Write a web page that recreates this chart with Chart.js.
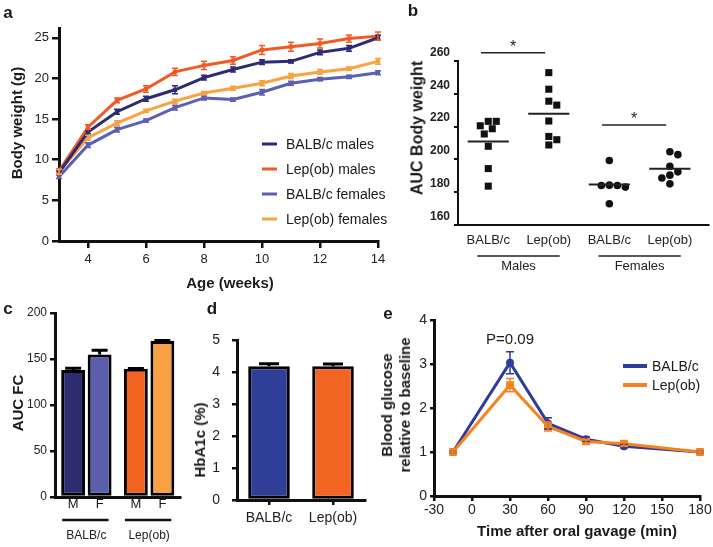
<!DOCTYPE html>
<html><head><meta charset="utf-8">
<script src="https://cdn.jsdelivr.net/npm/chart.js@4.4.1/dist/chart.umd.min.js"></script>
<style>
html,body{margin:0;padding:0;background:#fff;}
#fig{position:relative;width:713px;height:547px;overflow:hidden;background:#fff;font-family:'Liberation Sans',Arial,Helvetica,sans-serif;color:#1a1a1a;}
canvas{position:absolute;}
.t{position:absolute;white-space:nowrap;transform:translate(-50%,-50%);line-height:1.2;}
.r{transform:translate(-50%,-50%) rotate(-90deg);text-align:center;}
.b{font-weight:bold;}
.pl{font-weight:bold;font-size:17px;}
.ll{position:absolute;height:3px;transform:translateY(-50%);}
.lt{position:absolute;white-space:nowrap;transform:translateY(-50%);font-size:14px;line-height:1.2;}
</style></head>
<body><div id="fig">
<canvas id="ca" width="395" height="295" style="left:0;top:0"></canvas>
<canvas id="cb" width="313" height="250" style="left:400px;top:30px"></canvas>
<canvas id="cc" width="190" height="257" style="left:0;top:290px"></canvas>
<canvas id="cd" width="190" height="257" style="left:190px;top:290px"></canvas>
<canvas id="ce" width="333" height="257" style="left:380px;top:290px"></canvas>

<div class="t pl" style="left:8px;top:13px">a</div>
<div class="t pl" style="left:413px;top:11px">b</div>
<div class="t pl" style="left:8px;top:309px">c</div>
<div class="t pl" style="left:212px;top:309px">d</div>
<div class="t pl" style="left:388px;top:314px">e</div>

<div class="t r b" style="left:17px;top:123px;font-size:15px">Body weight (g)</div>
<div class="t b" style="left:230px;top:283px;font-size:15px">Age (weeks)</div>
<div id="legA"></div>

<div class="t r b" style="left:417px;top:128px;font-size:16px">AUC Body weight</div>
<div class="t r b" style="left:18px;top:403px;font-size:15px">AUC FC</div>
<div class="t r b" style="left:200px;top:440px;font-size:15px">HbA1c (%)</div>
<div class="t r b" style="left:396px;top:405px;font-size:15px;line-height:18px">Blood glucose<br>relative to baseline</div>
<div class="t b" style="left:577px;top:531px;font-size:15px">Time after oral gavage (min)</div>
<div id="legE"></div>
</div>
<script>
// ---------- data ----------
// panel a: body weight (g) by age (weeks)
const weeks = [3,4,5,6,7,8,9,10,11,12,13,14];
const aXTicks = [4,6,8,10,12,14];
const aYTicks = [0,5,10,15,20,25];
const balbMales      = [8.4,13.4,15.9,17.5,18.6,20.1,21.1,22.0,22.1,23.2,23.7,25.0];
const balbMalesErr   = [0.2,0.2,0.3,0.3,0.5,0.3,0.3,0.3,0.2,0.3,0.35,0.3];
const lepMales       = [8.6,14.0,17.3,18.7,20.8,21.6,22.2,23.5,23.9,24.3,24.9,25.2];
const lepMalesErr    = [0.3,0.3,0.3,0.4,0.45,0.5,0.45,0.55,0.55,0.55,0.45,0.5];
const balbFemales    = [7.9,11.8,13.7,14.8,16.4,17.6,17.4,18.3,19.4,19.9,20.2,20.7];
const balbFemalesErr = [0.2,0.3,0.3,0.2,0.3,0.25,0.2,0.35,0.25,0.2,0.2,0.25];
const lepFemales     = [8.5,12.7,14.5,16.0,17.2,18.2,18.8,19.4,20.3,20.8,21.2,22.1];
const lepFemalesErr  = [0.3,0.3,0.3,0.2,0.25,0.2,0.25,0.3,0.3,0.3,0.2,0.35];
const aLabels = ['BALB/c males','Lep(ob) males','BALB/c females','Lep(ob) females'];

// panel b: AUC body weight per animal
const bGroups = ['BALB/c','Lep(ob)','BALB/c','Lep(ob)'];
const bSexGroups = ['Males','Females'];
const bYTicks = [160,180,200,220,240,260];
const aucBalbMales   = [223.2,223.2,220.5,218.7,215.5,208.0,194.4,183.7];
const aucLepMales    = [252.9,242.8,235.5,233.1,223.4,214.0,212.0,208.8];
const aucBalbFemales = [199.3,184.3,184.1,184.1,183.1,173.0];
const aucLepFemales  = [204.7,202.9,195.8,192.4,190.4,188.7,185.1];
const bSig = [{from:0,to:1,y:265,text:'*'},{from:2,to:3,y:221,text:'*'}];

// panel c: AUC FC
const cGroups = ['BALB/c','Lep(ob)'];
const cSexes = ['M','F'];
const aucFcMales = [138,139.3];
const aucFcMalesErr = [2,0.5];
const aucFcFemales = [155,169.5];
const aucFcFemalesErr = [4.5,0.5];

// panel d: HbA1c (%)
const dGroups = ['BALB/c','Lep(ob)'];
const hba1c = [4.18,4.18];
const hba1cErr = [0.08,0.07];

// panel e: blood glucose relative to baseline
const eTimes = [-15,30,60,90,120,180];
const eXTicks = [-30,0,30,60,90,120,150,180];
const eBalb = [1.0,3.03,1.65,1.29,1.13,1.0];
const eBalbErr = [0.02,0.25,0.13,0.05,0.04,0.02];
const eLep = [1.0,2.52,1.58,1.24,1.19,1.0];
const eLepErr = [0.02,0.15,0.10,0.04,0.05,0.02];
const eNote = {x:30,y:3.55,text:'P=0.09'};
const eLabels = ['BALB/c','Lep(ob)'];

// ---------- styles ----------
const FONT = "'Liberation Sans', Arial, Helvetica, sans-serif";
const col = {
  navy:'#2c2c74', red:'#f15a24', lav:'#5b60b4', lor:'#f9a23f',
  cNavy:'#2b2d70', cLav:'#5a5eab', cRed:'#f26322', cLor:'#f8a043',
  dBlue:'#2f3f97', dOr:'#f26522', eBlue:'#2e3d9b', eOr:'#f68220', ink:'#111'
};
Chart.defaults.font.family = FONT;
Chart.defaults.color = '#1a1a1a';
Chart.defaults.animation = false;
Chart.defaults.plugins.legend.display = false;
Chart.defaults.plugins.tooltip.enabled = false;

function fixed(size){
  return function(s){
    if(s.isHorizontal()) s.height = size; else s.width = size;
    s.paddingLeft = s.paddingRight = s.paddingTop = s.paddingBottom = 0;
  };
}
function setTicks(arr){ return function(s){ s.ticks = arr.map(v=>({value:v})); }; }
function axis(o){
  return Object.assign({
    grid:{drawOnChartArea:false, drawTicks:o.tl>0, tickLength:o.tl, color:col.ink, lineWidth:o.tw||2.5, offset:false},
    border:{display:true, color:col.ink, width:o.bw||3}
  }, o.extra);
}

const errorBars = {
  id:'errorBars',
  afterDatasetsDraw(chart){
    const ctx = chart.ctx;
    chart.data.datasets.forEach((ds,i)=>{
      if(!ds.errors) return;
      const meta = chart.getDatasetMeta(i);
      const ys = chart.scales[meta.yAxisID];
      ctx.save();
      ctx.strokeStyle = ds.errColor || ds.borderColor;
      ctx.lineWidth = ds.errWidth || 1.5;
      meta.data.forEach((el,j)=>{
        const d = ds.data[j]; const v = (typeof d === 'object') ? d.y : d;
        const e = ds.errors[j]; if(!e) return;
        const x = el.x, cw = ds.capWidth || 6;
        const yt = ys.getPixelForValue(v+e);
        const yb = ds.errUpOnly ? ys.getPixelForValue(v) : ys.getPixelForValue(v-e);
        ctx.beginPath();
        ctx.moveTo(x,yt); ctx.lineTo(x,yb);
        ctx.moveTo(x-cw/2,yt); ctx.lineTo(x+cw/2,yt);
        if(!ds.errUpOnly){ ctx.moveTo(x-cw/2,yb); ctx.lineTo(x+cw/2,yb); }
        ctx.stroke();
      });
      ctx.restore();
    });
  }
};

// ---------- panel a ----------
function aSeries(vals, errs, c, label){
  return {label, data: weeks.map((w,i)=>({x:w,y:vals[i]})), errors:errs,
    borderColor:c, backgroundColor:c, borderWidth:3, pointStyle:'rect', pointRadius:3,
    pointBorderWidth:0, tension:0, clip:false, capWidth:6, errWidth:1.5};
}
const aColors = [col.navy,col.red,col.lav,col.lor];
new Chart(document.getElementById('ca'), {
  type:'line',
  data:{datasets:[
    aSeries(balbMales,balbMalesErr,col.navy,aLabels[0]),
    aSeries(lepMales,lepMalesErr,col.red,aLabels[1]),
    aSeries(balbFemales,balbFemalesErr,col.lav,aLabels[2]),
    aSeries(lepFemales,lepFemalesErr,col.lor,aLabels[3])
  ]},
  options:{responsive:false, layout:{padding:{top:28,right:17,left:0,bottom:0}},
    scales:{
      x:axis({tl:7, extra:{type:'linear',min:3,max:14,afterBuildTicks:setTicks(aXTicks),afterFit:fixed(54),
        ticks:{font:{size:13},padding:4,color:'#222'}}}),
      y:axis({tl:7, extra:{type:'linear',min:0,max:26.2,afterBuildTicks:setTicks(aYTicks),afterFit:fixed(59),
        ticks:{font:{size:13},padding:3,color:'#222'}}})
    }},
  plugins:[errorBars]
});
// legend a (HTML)
(function(){
  const box = document.getElementById('legA');
  aLabels.forEach((lab,i)=>{
    const y = 144 + i*25;
    box.insertAdjacentHTML('beforeend',
      `<div class="ll" style="left:262px;top:${y}px;width:15px;background:${aColors[i]}"></div>`+
      `<div class="lt" style="left:286px;top:${y}px">${lab}</div>`);
  });
})();

// ---------- panel b ----------
function beeswarm(pys, size){
  const order = pys.map((v,i)=>i).sort((a,b)=>pys[a]-pys[b]);
  const placed = [], offs = new Array(pys.length).fill(0);
  for(const i of order){
    for(let k=0;k<60;k++){
      const step = Math.ceil(k/2), sign = (k%2===1)?1:-1;
      const cx = sign*step*size/2;
      const ok = placed.every(p => (p.x-cx)*(p.x-cx)+(p.y-pys[i])*(p.y-pys[i]) >= size*size-0.01);
      if(ok){ offs[i]=cx; placed.push({x:cx,y:pys[i]}); break; }
    }
  }
  return offs;
}
const bDeco = {
  id:'bDeco',
  afterDatasetsDraw(chart){
    const {ctx, chartArea, scales:{x,y}} = chart;
    ctx.save();
    ctx.strokeStyle = '#222'; ctx.fillStyle = '#222';
    ctx.lineWidth = 2;
    chart.data.datasets.forEach((ds,g)=>{
      const m = ds.data.reduce((s,p)=>s+p.y,0)/ds.data.length;
      const py = y.getPixelForValue(m);
      ctx.beginPath(); ctx.moveTo(x.getPixelForValue(g-0.34),py); ctx.lineTo(x.getPixelForValue(g+0.34),py); ctx.stroke();
    });
    ctx.lineWidth = 1.6;
    ctx.font = '16px ' + FONT; ctx.textAlign = 'center'; ctx.textBaseline = 'alphabetic';
    bSig.forEach(s=>{
      const py = y.getPixelForValue(s.y);
      const x1 = x.getPixelForValue(s.from-0.12), x2 = x.getPixelForValue(s.to-0.06);
      ctx.beginPath(); ctx.moveTo(x1,py); ctx.lineTo(x2,py); ctx.stroke();
      ctx.fillText(s.text,(x1+x2)/2,py-1);
    });
    ctx.font = '13px ' + FONT; ctx.textBaseline = 'middle';
    const gy = chartArea.bottom + 31;
    bSexGroups.forEach((lab,k)=>{
      const c = 2*k + 0.5;
      const x1 = x.getPixelForValue(c-0.68), x2 = x.getPixelForValue(c+0.68);
      ctx.beginPath(); ctx.moveTo(x1,gy); ctx.lineTo(x2,gy); ctx.stroke();
      ctx.fillText(lab,(x1+x2)/2,gy+10);
    });
    ctx.restore();
  }
};
const bSets = [aucBalbMales,aucLepMales,aucBalbFemales,aucLepFemales];
const bChart = new Chart(document.getElementById('cb'), {
  type:'scatter',
  data:{datasets: bSets.map((vals,g)=>({
    label: bGroups[g]+' '+bSexGroups[g<2?0:1],
    data: vals.map(v=>({x:g,y:v})),
    pointStyle: g<2 ? 'rect' : 'circle', pointRadius: g<2 ? 5 : 3.8,
    backgroundColor:'#111', borderColor:'#111', pointBorderWidth:0, clip:false
  }))},
  options:{responsive:false, layout:{padding:{top:31,right:1,left:0,bottom:0}},
    scales:{
      x:axis({tl:0, bw:2, extra:{type:'linear',min:-0.5,max:3.63,
        afterBuildTicks:setTicks(bGroups.map((_,i)=>i)), afterFit:fixed(55),
        ticks:{font:{size:13},padding:8,color:'#222',callback:v=>bGroups[v]}}}),
      y:axis({tl:4, bw:2, tw:2, extra:{type:'linear',min:160,max:260,afterBuildTicks:setTicks(bYTicks),afterFit:fixed(58),
        ticks:{font:{size:12,weight:'bold'},padding:4,labelOffset:-8.5,color:'#222'}}})
    }},
  plugins:[bDeco]
});
(function(){
  const xs = bChart.scales.x, ys = bChart.scales.y;
  const pxX = xs.getPixelForValue(1)-xs.getPixelForValue(0);
  bChart.data.datasets.forEach((ds,g)=>{
    const offs = beeswarm(ds.data.map(p=>ys.getPixelForValue(p.y)), 8);
    ds.data.forEach((p,i)=>{ p.x = g + offs[i]/pxX; });
  });
  bChart.update();
})();

// ---------- panel c ----------
const cDeco = {
  id:'cDeco',
  afterDraw(chart){
    const {ctx, chartArea} = chart;
    ctx.save();
    ctx.fillStyle = '#1a1a1a'; ctx.strokeStyle = '#111';
    ctx.font = '13px ' + FONT; ctx.textAlign = 'center'; ctx.textBaseline = 'middle';
    chart.data.datasets.forEach((ds,di)=>{
      chart.getDatasetMeta(di).data.forEach(bar=>ctx.fillText(ds.label, bar.x, chartArea.bottom+7));
    });
    const m0 = chart.getDatasetMeta(0).data, m1 = chart.getDatasetMeta(1).data;
    ctx.lineWidth = 2.5;
    const gy = chartArea.bottom + 23;
    cGroups.forEach((g,i)=>{
      const l = m0[i].x - m0[i].width/2 + 1, r = m1[i].x + m1[i].width/2 - 3;
      ctx.beginPath(); ctx.moveTo(l,gy); ctx.lineTo(r,gy); ctx.stroke();
    });
    ctx.restore();
  }
};
new Chart(document.getElementById('cc'), {
  type:'bar',
  data:{labels:cGroups, datasets:[
    {label:cSexes[0], data:aucFcMales, errors:aucFcMalesErr, backgroundColor:[col.cNavy,col.cRed],
     borderColor:'#000', borderWidth:3, borderSkipped:false, errColor:'#000', errWidth:3, capWidth:16, errUpOnly:true},
    {label:cSexes[1], data:aucFcFemales, errors:aucFcFemalesErr, backgroundColor:[col.cLav,col.cLor],
     borderColor:'#000', borderWidth:3, borderSkipped:false, errColor:'#000', errWidth:3, capWidth:16, errUpOnly:true}
  ]},
  options:{responsive:false, layout:{padding:{top:23,right:9.5,left:0,bottom:0}},
    datasets:{bar:{categoryPercentage:0.845, barPercentage:0.9}},
    scales:{
      x:axis({tl:0, extra:{afterFit:fixed(50),
        ticks:{font:{size:12},padding:31,color:'#222'}}}),
      y:axis({tl:5, extra:{min:0,max:200,ticks:{stepSize:50,font:{size:12},padding:3,color:'#222'},afterFit:fixed(55)}})
    }},
  plugins:[errorBars, cDeco]
});

// ---------- panel d ----------
new Chart(document.getElementById('cd'), {
  type:'bar',
  data:{labels:dGroups, datasets:[
    {label:'HbA1c', data:hba1c, errors:hba1cErr, backgroundColor:[col.dBlue,col.dOr],
     borderColor:'#000', borderWidth:3, borderSkipped:false, errColor:'#000', errWidth:3, capWidth:20, errUpOnly:true}
  ]},
  options:{responsive:false, layout:{padding:{top:50,right:15,left:0,bottom:0}},
    datasets:{bar:{categoryPercentage:1, barPercentage:0.65}},
    scales:{
      x:axis({tl:5, extra:{afterFit:fixed(47), ticks:{font:{size:14},padding:5,color:'#222'}}}),
      y:axis({tl:5, extra:{min:0,max:5,ticks:{stepSize:1,font:{size:14},padding:12,color:'#222'},afterFit:fixed(47)}})
    }},
  plugins:[errorBars]
});

// ---------- panel e ----------
const eDeco = {
  id:'eDeco',
  afterDraw(chart){
    const {ctx, scales:{x,y}} = chart;
    ctx.save();
    ctx.fillStyle = '#1a1a1a'; ctx.font = '15px ' + FONT; ctx.textAlign = 'center'; ctx.textBaseline = 'middle';
    ctx.fillText(eNote.text, x.getPixelForValue(eNote.x), y.getPixelForValue(eNote.y));
    ctx.restore();
  }
};
new Chart(document.getElementById('ce'), {
  type:'line',
  data:{datasets:[
    {label:eLabels[0], data:eTimes.map((t,i)=>({x:t,y:eBalb[i]})), errors:eBalbErr, order:1,
     borderColor:col.eBlue, backgroundColor:col.eBlue, borderWidth:3, pointStyle:'circle', pointRadius:4,
     pointBorderWidth:0, tension:0, clip:false, capWidth:8, errWidth:1.5},
    {label:eLabels[1], data:eTimes.map((t,i)=>({x:t,y:eLep[i]})), errors:eLepErr, order:0,
     borderColor:col.eOr, backgroundColor:col.eOr, borderWidth:3, pointStyle:'rect', pointRadius:5.5,
     pointBorderWidth:0, tension:0, clip:false, capWidth:8, errWidth:1.5}
  ]},
  options:{responsive:false, layout:{padding:{top:30,right:13,left:0,bottom:0}},
    scales:{
      x:axis({tl:5, extra:{type:'linear',min:-30,max:180,afterBuildTicks:setTicks(eXTicks),afterFit:fixed(51),
        ticks:{font:{size:14},padding:1,color:'#222'}}}),
      y:axis({tl:4, extra:{type:'linear',min:0,max:4,ticks:{stepSize:1,font:{size:14},padding:3,color:'#222'},afterFit:fixed(54)}})
    }},
  plugins:[errorBars, eDeco]
});
(function(){
  const box = document.getElementById('legE');
  const cs = [col.eBlue, col.eOr];
  eLabels.forEach((lab,i)=>{
    const y = 366 + i*19;
    box.insertAdjacentHTML('beforeend',
      `<div class="ll" style="left:623px;top:${y}px;width:24px;height:4px;background:${cs[i]}"></div>`+
      `<div class="lt" style="left:652px;top:${y}px">${lab}</div>`);
  });
})();
</script>
</body></html>
